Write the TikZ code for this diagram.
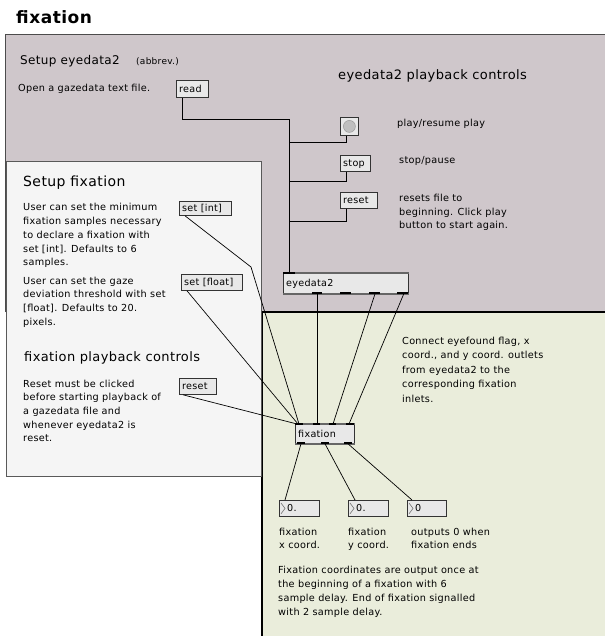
\documentclass[tikz,border=0pt]{standalone}
\usepackage{fontspec}
\setmainfont[LetterSpace=3]{DejaVu Sans}
\usetikzlibrary{calc}
\definecolor{pinkbg}{HTML}{CFC7CB}
\definecolor{greenbg}{HTML}{EAEDDB}
\definecolor{whitebg}{HTML}{F5F5F5}
\definecolor{boxfill}{HTML}{E8E8E8}
\newcommand\maxobj[6]{%
  \node[objbox, anchor=north west, minimum width={#4-#2}, minimum height={#5-#3}] (#1) at (#2,#3) {};
  \node[objtxt] (#1-t) at ([xshift=3pt,yshift=-3.5pt]#1.west) {#6};}
\begin{document}
\begin{tikzpicture}[x=1pt,y=-1pt,
  txt/.style={anchor=base west, inner sep=0pt, font=\fontsize{9.7}{12}\selectfont},
  hd/.style={anchor=base west, inner sep=0pt, font=\fontsize{13}{16}\selectfont},
  objbox/.style={draw=black!80, fill=boxfill, line width=0.8pt, inner sep=0pt},
  objtxt/.style={anchor=base west, inner sep=0pt, font=\fontsize{9.6}{12}\selectfont},
  cord/.style={draw=black, line width=0.7pt},
  bar/.style={line width=2pt, draw=black!60},
  port/.style={line width=2pt, draw=black}]
\useasboundingbox (0,0) rectangle (605,636);
\fill[white] (0,0) rectangle (605,636);
% panels
\fill[pinkbg] (5,34) rectangle (605,312);
\draw[black!70, line width=0.8pt] (5,312) -- (5,34) -- (605,34);
\fill[greenbg] (261,312) rectangle (605,636);
\draw[black, line width=2pt] (262,636) -- (262,312) -- (605,312);
\filldraw[fill=whitebg, draw=black!65, line width=0.8pt] (6,161) rectangle (261,476);

% title and headings
\node[anchor=base west, inner sep=0pt, font=\fontsize{17}{20}\selectfont\bfseries] (title) at (16,24) {fixation};
\node[anchor=base west, inner sep=0pt, font=\fontsize{12}{14}\selectfont] (h1) at (20,65) {Setup eyedata2};
\node[anchor=base west, inner sep=0pt, font=\fontsize{9}{10}\selectfont] (h1b) at (136,65) {(abbrev.)};
\node[txt] (open) at (18,92) {Open a gazedata text file.};
\node[hd] (h2) at (338,80) {eyedata2 playback controls};
\node[anchor=base west, inner sep=0pt, font=\fontsize{14}{16}\selectfont] (h3) at (23,187) {Setup fixation};
\node[hd] (h4) at (24,361) {fixation playback controls};

% objects
\maxobj{read}{176}{80}{208}{97}{read}
\node[objbox, anchor=north west, minimum width=18, minimum height=18] (play) at (340,117) {};
\filldraw[fill=black!25, draw=black!40, line width=0.5pt] (play.center) circle (6);
\maxobj{stop}{340}{155}{370}{171}{stop}
\maxobj{rsta}{340}{192}{377}{208}{reset}
\maxobj{setint}{179}{201}{231}{215}{set [int]}
\maxobj{setfloat}{181}{274}{242}{290}{set [float]}
\maxobj{rstb}{179}{378}{216}{394}{reset}
\maxobj{eye}{283}{273}{408}{293}{eyedata2}
\maxobj{fix}{295}{424}{354}{443}{fixation}
\maxobj{numa}{279}{500}{319}{516}{}
\maxobj{numb}{348}{500}{388}{516}{}
\maxobj{numc}{407}{500}{446}{516}{}
\foreach \n/\v in {numa/0., numb/0., numc/0}{
  \draw[black!55, line width=0.6pt] ([xshift=2pt,yshift=-3pt]\n.north west) -- ([xshift=6pt]\n.west) -- ([xshift=2pt,yshift=3pt]\n.south west);
  \node[objtxt] (\n-v) at ([xshift=8pt,yshift=-3.5pt]\n.west) {\v};
}

% inlet / outlet bars
\draw[bar] (eye.north west) -- (eye.north east);
\draw[bar] (eye.south west) -- (eye.south east);
\draw[port] (283,273) -- (295,273);
\foreach \a/\b in {312/322, 340/351, 369/380, 397/408} \draw[port] (\a,293) -- (\b,293);
\draw[bar] (fix.north west) -- (fix.north east);
\draw[bar] (fix.south west) -- (fix.south east);
\foreach \a/\b in {295/303, 313/320, 329/336, 346/354} \draw[port] (\a,424) -- (\b,424);
\foreach \a/\b in {297/305, 321/329, 344/352} \draw[port] (\a,443) -- (\b,443);

% cords
\coordinate (j1) at (289,119);
\coordinate (bend) at (251,267);
\draw[cord] ([xshift=6pt]read.south west) |- (j1) -- ([xshift=6pt]eye.north west);
\draw[cord] ([xshift=6pt]play.south west) -- ++(0,7) -| (j1);
\draw[cord] ([xshift=6pt]stop.south west) -- ++(0,10) -| (j1);
\draw[cord] ([xshift=6pt]rsta.south west) -- ++(0,13) -| (j1);
\draw[cord] ([xshift=6pt]setint.south west) -- (bend) -- ([xshift=4pt]fix.north west);
\draw[cord] ([xshift=6pt]setfloat.south west) -- ([xshift=3pt]fix.north west);
\draw[cord] ([xshift=4pt]rstb.south west) -- ([xshift=2pt]fix.north west);
\draw[cord] ([xshift=34pt]eye.south west) -- ([xshift=22pt]fix.north west);
\draw[cord] ([xshift=92pt]eye.south west) -- ([xshift=38pt]fix.north west);
\draw[cord] ([xshift=-5pt]eye.south east) -- ([xshift=54pt]fix.north west);
\draw[cord] ([xshift=6pt]fix.south west) -- ([xshift=6pt]numa.north west);
\draw[cord] ([xshift=30pt]fix.south west) -- ([xshift=7pt]numb.north west);
\draw[cord] ([xshift=53pt]fix.south west) -- ([xshift=5pt]numc.north west);

% texts
\node[txt] (tplay) at (397,127) {play/resume play};
\node[txt] (tstop) at (399,164) {stop/pause};
\foreach \l [count=\i from 0] in {resets file to, {beginning. Click play}, button to start again.}
  \node[txt] (tr\i) at (399,{201+14*\i}) {\l};
\foreach \l [count=\i from 0] in {User can set the minimum, fixation samples necessary, to declare a fixation with, {set [int]. Defaults to 6}, samples.}
  \node[txt] (pa\i) at (23,{211+13.7*\i}) {\l};
\foreach \l [count=\i from 0] in {User can set the gaze, deviation threshold with set, {[float]. Defaults to 20.}, pixels.}
  \node[txt] (pb\i) at (23,{284+13.7*\i}) {\l};
\foreach \l [count=\i from 0] in {Reset must be clicked, before starting playback of, a gazedata file and, whenever eyedata2 is, reset.}
  \node[txt] (pc\i) at (23,{387+13.7*\i}) {\l};
\foreach \l [count=\i from 0] in {{Connect eyefound flag, x}, {coord., and y coord. outlets}, from eyedata2 to the, corresponding fixation, inlets.}
  \node[txt] (pd\i) at (402,{344+14.5*\i}) {\l};
\node[txt] (la1) at (279,535) {fixation};
\node[txt] (la2) at (279,548) {x coord.};
\node[txt] (lb1) at (348,535) {fixation};
\node[txt] (lb2) at (348,548) {y coord.};
\node[txt] (lc1) at (411,535) {outputs 0 when};
\node[txt] (lc2) at (411,548) {fixation ends};
\foreach \l [count=\i from 0] in {Fixation coordinates are output once at, the beginning of a fixation with 6, sample delay. End of fixation signalled, with 2 sample delay.}
  \node[txt] (pe\i) at (278,{573+14*\i}) {\l};
\end{tikzpicture}
\end{document}
